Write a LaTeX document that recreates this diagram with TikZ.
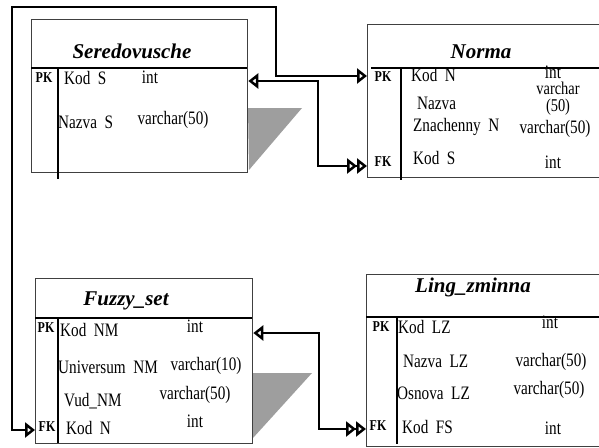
\documentclass[tikz,border=0pt]{standalone}
\usepackage{fontspec}
\setmainfont{Liberation Serif}
\newfontfamily\fieldfont[FakeStretch=0.8]{Liberation Serif}
\usetikzlibrary{arrows.meta,positioning}

\tikzset{
  table/.style={draw=black!75, line width=1.3pt, anchor=north west, inner sep=0pt},
  title/.style={font=\fontsize{21}{24}\selectfont\bfseries\itshape, inner sep=0pt},
  key/.style={font=\fieldfont\fontsize{15}{17}\selectfont\bfseries, inner sep=0pt},
  field/.style={font=\fieldfont\fontsize{19}{21}\selectfont, anchor=west, inner sep=0pt},
  type/.style={font=\fieldfont\fontsize{19}{21}\selectfont, align=center, inner sep=0pt},
  rule/.style={line width=1.9pt},
  divider/.style={line width=1.3pt},
  shadow/.style={fill=black!38, draw=none},
  link/.style={line width=2.6pt},
  tip/.tip={Triangle[fill=white, length=10pt, width=15pt]}
}

\begin{document}
\begin{tikzpicture}[x=1pt, y=-1pt]
  \clip (0,0) rectangle (599,447);

  % shadows
  \fill[shadow] (248,108) -- (302,108) -- (249,170) -- cycle;
  \fill[shadow] (253,373) -- (312,373) -- (253,438) -- cycle;

  % Seredovusche
  \node[table, minimum width=216, minimum height=153] (ser) at (31,19) {};
  \draw[rule] (31,68) -- (247,68);
  \draw[divider] (58,68) -- (58,179);
  \node[title] (serT) at (132,51) {Seredovusche};
  \node[key] (serPKk) at (44,78) {PK};
  \node[field] (serKod) at (64,78) {Kod~~S};
  \node[type] (serKodT) at (150,77) {int};
  \node[field] (serNaz) at (58,122) {Nazva~~S};
  \node[type] (serNazT) at (173,120) {varchar(50)};

  % Norma
  \node[table, minimum width=236, minimum height=153] (norma) at (367,24) {};
  \draw[rule] (371,68) -- (603,68);
  \draw[divider] (401,68) -- (401,180);
  \node[title] (normaT) at (481,52) {Norma};
  \node[key] (nPKk) at (383,77) {PK};
  \node[field] (nKod) at (411,75) {Kod~~N};
  \node[type] (nKodT) at (553,72) {int};
  \node[field] (nNaz) at (417,103) {Nazva};
  \node[type, font=\fieldfont\fontsize{18}{17}\selectfont] (nNazT) at (558,99) {varchar\\(50)};
  \node[field] (nZn) at (413,127) {Znachenny~~N};
  \node[type] (nZnT) at (555,129) {varchar(50)};
  \node[key] (nFKk) at (383,162) {FK};
  \node[field] (nKodS) at (413,158) {Kod~~S};
  \node[type] (nKodST) at (553,162) {int};

  % Fuzzy_set
  \node[table, minimum width=217, minimum height=165] (fuzzy) at (35,278) {};
  \draw[rule] (35,318) -- (252,318);
  \draw[divider] (58,318) -- (58,443);
  \node[title] (fuzzyT) at (126,301) {Fuzzy\_set};
  \node[key] (fPKk) at (46,328) {PK};
  \node[field] (fKod) at (60,330) {Kod~~NM};
  \node[type] (fKodT) at (195,326) {int};
  \node[field] (fUni) at (58,367) {Universum~~NM};
  \node[type] (fUniT) at (206,366) {varchar(10)};
  \node[field] (fVud) at (64,401) {Vud\_NM};
  \node[type] (fVudT) at (195,395) {varchar(50)};
  \node[key] (fFKk) at (47,427) {FK};
  \node[field] (fKodN) at (66,428) {Kod~~N};
  \node[type] (fKodNT) at (195,421) {int};

  % Ling_zminna
  \node[table, minimum width=236, minimum height=172] (ling) at (366,274) {};
  \draw[rule] (366,317) -- (603,317);
  \draw[divider] (397,317) -- (397,444);
  \node[title] (lingT) at (473,287) {Ling\_zminna};
  \node[key] (lPKk) at (381,327) {PK};
  \node[field] (lKod) at (398,327) {Kod~~LZ};
  \node[type] (lKodT) at (550,322) {int};
  \node[field] (lNaz) at (403,361) {Nazva~~LZ};
  \node[type] (lNazT) at (551,362) {varchar(50)};
  \node[field] (lOsn) at (397,393) {Osnova~~LZ};
  \node[type] (lOsnT) at (549,390) {varchar(50)};
  \node[key] (lFKk) at (378,426) {FK};
  \node[field] (lKodFS) at (402,427) {Kod~~FS};
  \node[type] (lKodFST) at (553,428) {int};

  % ports
  \coordinate (serPK) at (ser.east |- 0,81);
  \coordinate (nPK) at (norma.west |- 0,76);
  \coordinate (nFK) at (norma.west |- 0,166);
  \coordinate (fPK) at (fuzzy.east |- 0,333);
  \coordinate (fFK) at (fuzzy.west |- 0,430);
  \coordinate (lFK) at (ling.west |- 0,429);

  \draw[link, tip-tip] (nPK) -- (276,76) -- (276,7) -- (12,7) -- (12,430) -- (fFK);
  \draw[link, tip-{tip[]tip[]}] (serPK) -| (318,166) -- (nFK);
  \draw[link, tip-{tip[]tip[]}] (fPK) -| (319,429) -- (lFK);
\end{tikzpicture}
\end{document}
